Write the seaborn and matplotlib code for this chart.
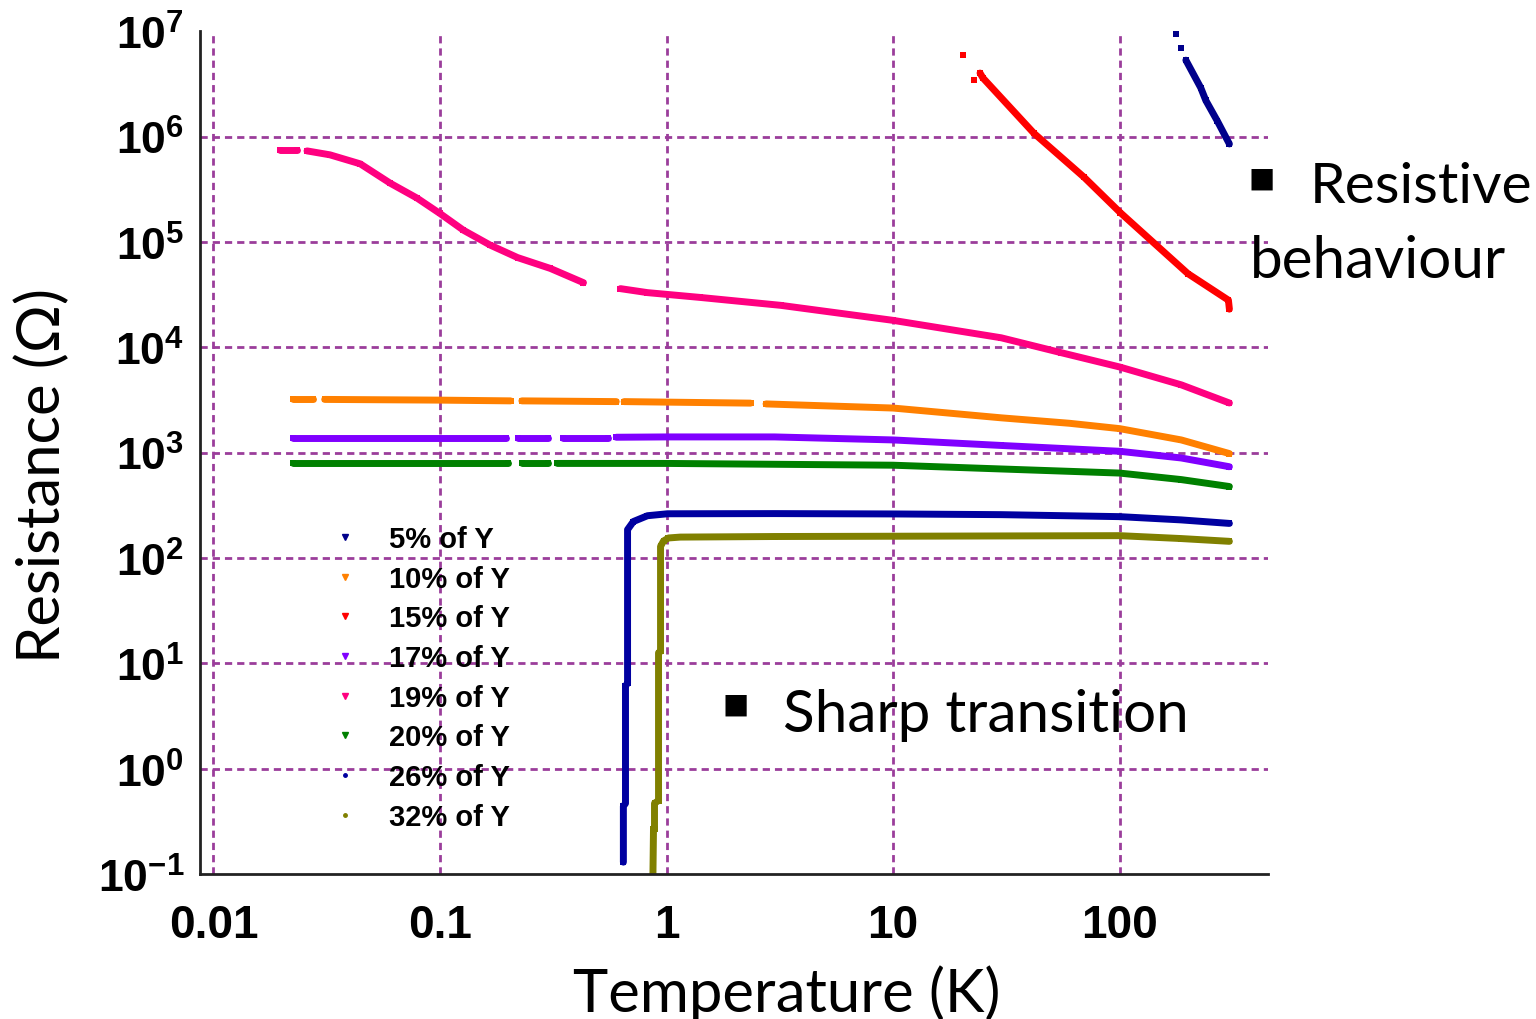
"""
Resistance vs temperature for Y-doped samples
"""

import numpy as np
import pandas as pd

import matplotlib
matplotlib.use("Agg")
import matplotlib.pyplot as plt
from matplotlib.lines import Line2D
from matplotlib.ticker import LogLocator, FuncFormatter
import seaborn as sns

nan = np.nan

##########################################################
# Data (NaN = gap in the data)
##########################################################

labels = ["5% of Y", "10% of Y", "15% of Y", "17% of Y",
          "19% of Y", "20% of Y", "26% of Y", "32% of Y"]

colors = ["#00008B", "#FF8000", "#FF0000", "#8000FF",
          "#FF0080", "#008000", "#0000A0", "#808000"]

t_5 = [177, nan, 187, nan, 196, 228, 240, 270, 305]
r_5 = [9.3e6, nan, 6.9e6, nan, 5.3e6, 2.9e6, 2.2e6, 1.4e6, 8.5e5]

t_10 = [0.0225, 0.0275, nan, 0.031, 0.1, 0.205, nan, 0.23, 0.6, nan,
        0.65, 2.35, nan, 2.75, 10, 30, 60, 100, 187, 305]
r_10 = [3.2e3, 3.2e3, nan, 3.2e3, 3.15e3, 3.1e3, nan, 3.1e3, 3.05e3, nan,
        3.05e3, 2.95e3, nan, 2.9e3, 2.65e3, 2.14e3, 1.9e3, 1.69e3, 1.32e3, 980]

t_15 = [20.3, nan, 22.7, nan, 24.2, 24.9, 41.9, 69.7, 100.5, 200, 302, 305]
r_15 = [5.9e6, nan, 3.45e6, nan, 4.0e6, 3.6e6, 1.07e6, 4.1e5, 1.9e5,
        5.0e4, 2.8e4, 2.3e4]

t_17 = [0.0225, 0.195, nan, 0.22, 0.3, nan, 0.35, 0.55, nan,
        0.6, 1, 3, 10, 30, 100, 187, 305]
r_17 = [1.38e3, 1.38e3, nan, 1.38e3, 1.38e3, nan, 1.38e3, 1.38e3, nan,
        1.4e3, 1.41e3, 1.41e3, 1.32e3, 1.17e3, 1.03e3, 890, 735]

t_19 = [0.0196, 0.0234, nan, 0.0259, 0.0327, 0.0445, 0.0604, 0.0793, 0.1,
        0.127, 0.167, 0.22, 0.307, 0.43, nan, 0.626, 0.824, 1.41, 3.19,
        10, 30, 55, 100, 187, 305]
r_19 = [7.5e5, 7.5e5, nan, 7.3e5, 6.7e5, 5.5e5, 3.6e5, 2.6e5, 1.86e5,
        1.29e5, 9.3e4, 7.1e4, 5.6e4, 4.1e4, nan, 3.6e4, 3.3e4, 2.97e4, 2.5e4,
        1.8e4, 1.23e4, 8.9e3, 6.5e3, 4.4e3, 2.96e3]

t_20 = [0.0225, 0.2, nan, 0.23, 0.3, nan, 0.33, 1, 10, 30, 100, 187, 305]
r_20 = [790, 790, nan, 790, 790, nan, 790, 790, 760, 700, 640, 555, 477]

t_26 = [0.645, 0.645, 0.659, 0.659, 0.673, 0.673, 0.714, 0.824, 1.01,
        3, 10, 30, 100, 187, 305]
r_26 = [0.13, 0.44, 0.47, 6.1, 6.5, 186, 222, 252, 263,
        264, 262, 258, 247, 230, 213]

t_32 = [0.87, 0.876, 0.885, 0.885, 0.922, 0.922, 0.941, 0.941, 0.97,
        1.02, 1.15, 3, 10, 30, 100, 187, 305]
r_32 = [0.08, 0.27, 0.27, 0.47, 0.5, 12.6, 13, 129, 145,
        155, 158, 160, 161, 162, 163, 153, 144]

series_t = [t_5, t_10, t_15, t_17, t_19, t_20, t_26, t_32]
series_r = [r_5, r_10, r_15, r_17, r_19, r_20, r_26, r_32]

##########################################################
# Long table (one unit per continuous piece)
##########################################################

rows = []

for name, t_list, r_list in zip(labels, series_t, series_r):

    piece = 0

    for t, r in zip(t_list, r_list):

        if np.isnan(t):
            piece += 1
            continue

        rows.append({
            "series": name,
            "piece": f"{name}-{piece}",
            "T": t,
            "R": r
        })

df = pd.DataFrame(rows)

palette = dict(zip(labels, colors))

##########################################################
# Style
##########################################################

sns.set_theme(style="white")

plt.rcParams["font.family"] = ["Lato", "DejaVu Sans"]
plt.rcParams["text.color"] = "black"
plt.rcParams["axes.labelcolor"] = "black"
plt.rcParams["xtick.color"] = "black"
plt.rcParams["ytick.color"] = "black"
plt.rcParams["mathtext.fontset"] = "custom"
plt.rcParams["mathtext.bf"] = "Liberation Sans:bold"
plt.rcParams["mathtext.rm"] = "Liberation Sans"

GRID_COLOR = "#9B3D9B"
AXIS_COLOR = "#222222"

##########################################################
# Figure
##########################################################

fig = plt.figure(figsize=(15.36, 10.2), dpi=100)

ax = fig.add_axes([0.130, 0.142, 0.6953, 0.8265])

sns.lineplot(
    data=df,
    x="T",
    y="R",
    hue="series",
    units="piece",
    estimator=None,
    sort=False,
    palette=palette,
    linewidth=5,
    marker="s",
    markersize=5,
    markeredgewidth=0,
    legend=False,
    ax=ax
)

ax.set_xscale("log")
ax.set_yscale("log")

ax.set_xlim(0.0087, 450)
ax.set_ylim(0.1, 1e7)

##########################################################
# Ticks
##########################################################

ax.xaxis.set_major_locator(LogLocator(base=10, numticks=20))
ax.yaxis.set_major_locator(LogLocator(base=10, numticks=20))
ax.xaxis.set_minor_locator(LogLocator(base=10, subs=np.arange(2, 10), numticks=100))
ax.yaxis.set_minor_locator(LogLocator(base=10, subs=np.arange(2, 10), numticks=100))

ax.xaxis.set_major_formatter(FuncFormatter(lambda v, _: f"{v:g}"))
ax.yaxis.set_major_formatter(
    FuncFormatter(lambda v, _: r"$\mathbf{10^{%d}}$" % int(round(np.log10(v))))
)

ax.tick_params(axis="both", which="major", direction="out",
               length=11, width=1.5, color=AXIS_COLOR)
ax.tick_params(axis="both", which="minor", direction="out",
               length=6, width=1.5, color=AXIS_COLOR)
ax.tick_params(axis="x", which="major", pad=10)
ax.tick_params(axis="y", which="major", pad=0)

for lab in ax.get_xticklabels():
    lab.set_fontfamily("Liberation Sans")
    lab.set_fontweight("bold")
    lab.set_fontsize(33)

for lab in ax.get_yticklabels():
    lab.set_fontsize(32)

sns.despine(ax=ax)

for side in ["left", "bottom"]:
    ax.spines[side].set_color(AXIS_COLOR)
    ax.spines[side].set_linewidth(2)

##########################################################
# Grid
##########################################################

ax.set_axisbelow(True)

ax.grid(True, which="major", color=GRID_COLOR,
        linestyle=(0, (2.6, 1.8)), linewidth=2)

for tick, loc in zip(ax.yaxis.get_major_ticks(), ax.yaxis.get_majorticklocs()):
    if loc > 5e6 or loc < 0.2:
        tick.gridline.set_visible(False)

##########################################################
# Legend
##########################################################

handles = []

for name, c in zip(labels, colors):
    mk = "." if name in ("26% of Y", "32% of Y") else "v"
    handles.append(Line2D([], [], linestyle="none", marker=mk,
                          markersize=5, color=c))

ax.legend(
    handles,
    labels,
    loc="upper left",
    bbox_to_anchor=(0.1222, 0.4140),
    frameon=False,
    prop={"family": "Liberation Sans", "weight": "bold", "size": 21},
    labelcolor="black",
    handlelength=1.0,
    handletextpad=1.0,
    labelspacing=0.40,
    borderpad=0,
    borderaxespad=0
)

##########################################################
# Labels and notes
##########################################################

ax.set_xlabel("Temperature (K)", fontsize=43, color="black", va="baseline")
ax.xaxis.set_label_coords(0.5496, -0.1625)

ax.set_ylabel("Resistance (Ω)", fontsize=43, color="black", va="baseline")
ax.yaxis.set_label_coords(-0.131, 0.4745)

fig.text(0.8216, 0.8245, "■", fontsize=20, ha="center", va="center",
         family="DejaVu Sans", color="black")
fig.text(0.8529, 0.801, "Resistive", fontsize=41, va="baseline", color="black")
fig.text(0.8138, 0.7275, "behaviour", fontsize=42, va="baseline", color="black")

fig.text(0.4792, 0.3088, "■", fontsize=20, ha="center", va="center",
         family="DejaVu Sans", color="black")
fig.text(0.5098, 0.2824, "Sharp transition", fontsize=42, va="baseline",
         color="black")

plt.savefig("out.png", dpi=100)

plt.close()
